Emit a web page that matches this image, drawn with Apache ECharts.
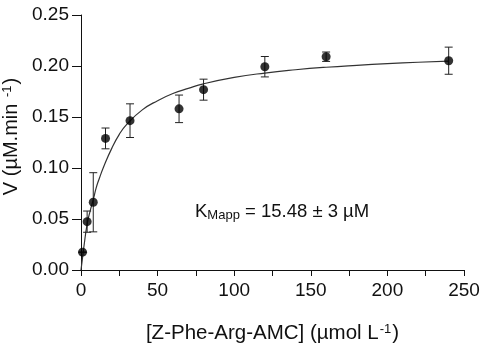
<!DOCTYPE html>
<html>
<head>
<meta charset="utf-8">
<script src="https://cdn.jsdelivr.net/npm/echarts@6/dist/echarts.min.js"></script>
<style>
  html, body { margin: 0; padding: 0; background: #fff; }
  #chart { width: 484px; height: 347px; }
</style>
</head>
<body>
<div id="chart"></div>
<script>
// substrate concentrations (umol/L) and measured rates
const conc = [1, 4, 8, 16, 32, 64, 80, 120, 160, 240];
const velocity = [0.0175, 0.0474, 0.0664, 0.129, 0.1464, 0.158, 0.1768, 0.1993, 0.2091, 0.2052];
const errors = [0.0, 0.0104, 0.029, 0.0102, 0.0165, 0.0135, 0.0103, 0.01, 0.0046, 0.0133];

// fitted curve
const fitX = [0, 1, 2, 4, 6, 8, 10, 12, 15, 20, 25, 30, 40, 50, 60, 70, 80, 100, 120, 140, 160, 180, 200, 220, 240];
const fitY = [0, 0.012, 0.024, 0.045, 0.058, 0.069, 0.081, 0.09, 0.102, 0.119, 0.133, 0.143, 0.157, 0.166, 0.173, 0.178, 0.1825, 0.1888, 0.1931, 0.1963, 0.1988, 0.2007, 0.2023, 0.2037, 0.2048];

const xTicks = [0, 50, 100, 150, 200, 250];
const yTicks = [0, 0.05, 0.1, 0.15, 0.2, 0.25];

const font = 'Liberation Sans, Arial, sans-serif';

const chart = echarts.init(document.getElementById('chart'));

const points = conc.map((c, i) => [c, velocity[i]]);
const bars = conc.map((c, i) => [c, velocity[i] - errors[i], velocity[i] + errors[i]]);
const curve = fitX.map((x, i) => [x, fitY[i]]);

chart.setOption({
  animation: false,
  backgroundColor: '#fff',
  grid: { left: 81, right: 20, top: 15, bottom: 77, outerBoundsMode: 'none', containLabel: false },
  xAxis: {
    type: 'value',
    min: xTicks[0],
    max: xTicks[xTicks.length - 1],
    interval: 50,
    name: '{n|[Z-Phe-Arg-AMC] (\u00b5mol L}{sup|-1}{n|)}',
    nameLocation: 'middle',
    nameGap: 53,
    nameTextStyle: {
      rich: {
        n: { fontSize: 20.5, fontFamily: font, color: '#111' },
        sup: { fontSize: 13, fontFamily: font, color: '#111', verticalAlign: 'top', padding: [0, 1, 8, 1] }
      }
    },
    axisLine: { lineStyle: { color: '#111', width: 1 } },
    axisTick: { length: 6, lineStyle: { color: '#111' } },
    minorTick: { show: true, splitNumber: 2, length: 6, lineStyle: { color: '#111' } },
    axisLabel: { fontSize: 19, fontFamily: font, color: '#111', margin: 11 },
    splitLine: { show: false }
  },
  yAxis: {
    type: 'value',
    min: yTicks[0],
    max: yTicks[yTicks.length - 1],
    interval: 0.05,
    name: '{n|V (\u00b5M.min }{sup|-1}{n|)}',
    nameLocation: 'middle',
    nameGap: 52,
    nameTextStyle: {
      padding: [0, 0, 0, 12],
      rich: {
        n: { fontSize: 20, fontFamily: font, color: '#111' },
        sup: { fontSize: 13, fontFamily: font, color: '#111', verticalAlign: 'top', padding: [0, 1, 8, 1] }
      }
    },
    axisLine: { show: true, lineStyle: { color: '#111', width: 1 } },
    axisTick: { show: true, length: 9, lineStyle: { color: '#111' } },
    axisLabel: {
      fontSize: 19, fontFamily: font, color: '#111', margin: 12,
      formatter: v => v.toFixed(2)
    },
    splitLine: { show: false }
  },
  graphic: [{
    type: 'text',
    left: 195,
    top: 202,
    style: {
      text: '{k|K}{sub|Mapp}{k| = 15.48 \u00b1 3 \u00b5M}',
      rich: {
        k: { fontSize: 18.5, fontFamily: font, fill: '#111' },
        sub: { fontSize: 13, fontFamily: font, fill: '#111', verticalAlign: 'bottom', padding: [7, 0, 0, 0] }
      }
    }
  }],
  series: [
    {
      type: 'line',
      data: curve,
      smooth: true,
      showSymbol: false,
      lineStyle: { color: '#333', width: 1.2 },
      z: 1
    },
    {
      type: 'custom',
      data: bars,
      renderItem: (params, api) => {
        const x = api.value(0);
        const lo = api.coord([x, api.value(1)]);
        const hi = api.coord([x, api.value(2)]);
        const cap = 4;
        const style = { stroke: '#222', lineWidth: 1 };
        return {
          type: 'group',
          children: [
            { type: 'line', shape: { x1: lo[0], y1: lo[1], x2: hi[0], y2: hi[1] }, style },
            { type: 'line', shape: { x1: lo[0] - cap, y1: lo[1], x2: lo[0] + cap, y2: lo[1] }, style },
            { type: 'line', shape: { x1: hi[0] - cap, y1: hi[1], x2: hi[0] + cap, y2: hi[1] }, style }
          ]
        };
      },
      z: 2
    },
    {
      type: 'scatter',
      data: points,
      symbol: 'circle',
      symbolSize: 9,
      itemStyle: { color: '#000' },
      z: 3
    }
  ]
});

window.addEventListener('resize', () => chart.resize());
</script>
</body>
</html>
